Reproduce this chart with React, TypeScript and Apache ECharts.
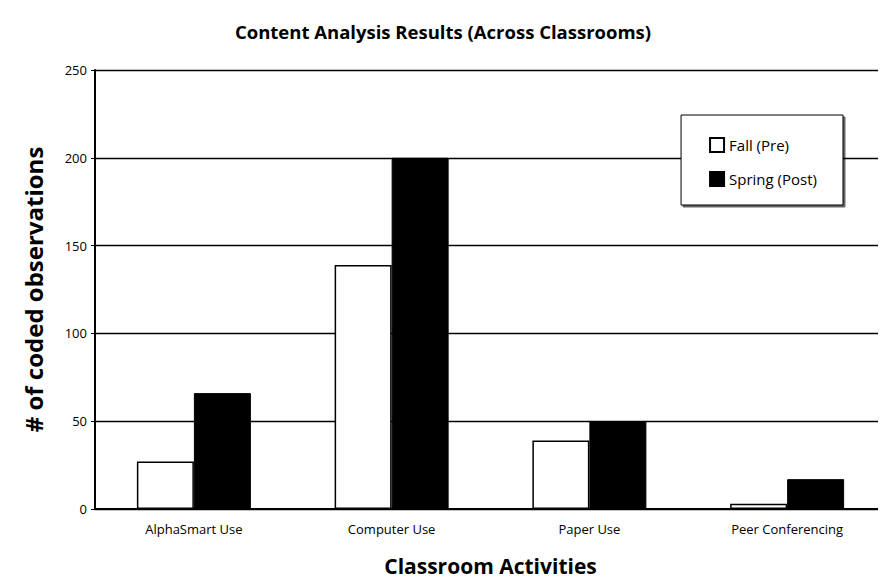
import React, { useEffect, useRef } from "react";
import * as echarts from "echarts";

const categories = ["AlphaSmart Use", "Computer Use", "Paper Use", "Peer Conferencing"];
const fallPre = [27, 139, 39, 3];
const springPost = [66, 200, 50, 17];
const yTicks = { min: 0, max: 250, interval: 50 };

export default function App() {
  const ref = useRef<HTMLDivElement>(null);
  useEffect(() => {
    if (!ref.current) return;
    const chart = echarts.init(ref.current, null, { renderer: "svg" });
    const font = "'Open Sans', 'Noto Sans', sans-serif";
    chart.setOption({
      animation: false,
      backgroundColor: "#ffffff",
      textStyle: { fontFamily: font },
      title: {
        text: "Content Analysis Results (Across Classrooms)",
        left: "center",
        top: 17,
        textStyle: { fontFamily: font, fontWeight: "bold", fontSize: 18.5, color: "#000" },
      },
      legend: {
        orient: "vertical",
        right: 43,
        top: 115,
        padding: [22, 26, 18, 28],
        itemGap: 18,
        backgroundColor: "#fff",
        borderColor: "#000",
        borderWidth: 1,
        shadowColor: "rgba(0,0,0,0.6)",
        shadowOffsetX: 2,
        shadowOffsetY: 2,
        shadowBlur: 0,
        itemWidth: 14,
        itemHeight: 14,
        icon: "rect",
        textStyle: { fontFamily: font, fontSize: 15, color: "#000" },
        data: ["Fall (Pre)", "Spring (Post)"],
      },
      grid: { left: 95, right: 0, top: 70, bottom: 74 },
      xAxis: {
        type: "category",
        data: categories,
        name: "Classroom Activities",
        nameLocation: "middle",
        nameGap: 46,
        nameTextStyle: { fontFamily: font, fontWeight: "bold", fontSize: 21, color: "#000" },
        axisLine: { lineStyle: { color: "#000", width: 2 } },
        axisTick: { show: false },
        axisLabel: { color: "#000", fontSize: 13, margin: 13, fontFamily: font },
      },
      yAxis: {
        type: "value",
        min: yTicks.min,
        max: yTicks.max,
        interval: yTicks.interval,
        name: "# of coded observations",
        nameLocation: "middle",
        nameGap: 50,
        nameTextStyle: { fontFamily: font, fontWeight: "bold", fontSize: 24, color: "#000" },
        axisLine: { show: true, lineStyle: { color: "#000", width: 2 } },
        axisTick: { show: true, length: 4, lineStyle: { color: "#000" } },
        axisLabel: { color: "#000", fontSize: 13, margin: 8, fontFamily: font },
        splitLine: { show: true, lineStyle: { color: "#000", width: 1.3 } },
      },
      series: [
        {
          name: "Fall (Pre)",
          type: "bar",
          data: fallPre,
          barWidth: 57,
          barGap: "0%",
          itemStyle: { color: "#fff", borderColor: "#000", borderWidth: 1.5 },
        },
        {
          name: "Spring (Post)",
          type: "bar",
          data: springPost,
          barWidth: 57,
          itemStyle: { color: "#000", borderColor: "#000", borderWidth: 1 },
        },
      ],
    });
    return () => chart.dispose();
  }, []);
  return <div ref={ref} style={{ width: 886, height: 583, margin: -8 }} />;
}
